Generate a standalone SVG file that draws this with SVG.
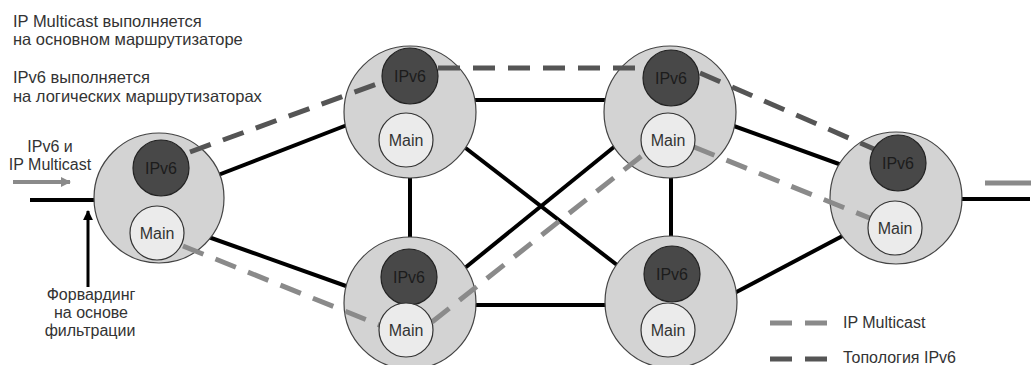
<svg xmlns="http://www.w3.org/2000/svg" width="1031" height="365" viewBox="0 0 1031 365">
<style>
text{font-family:"Liberation Sans",Arial,sans-serif;font-size:16px;fill:#333}
.c{text-anchor:middle}
.tl{font-size:16.5px}
.big{fill:#d3d3d3;stroke:#444;stroke-width:1.2}
.v6{fill:#484848;stroke:#222;stroke-width:1.2}
.mn{fill:#ebebeb;stroke:#333;stroke-width:1.2}
.t6{fill:#1c1c1c}
.solid{stroke:#000;stroke-width:4;fill:none}
.mc{stroke:#8a8a8a;stroke-width:5;stroke-dasharray:22 13;fill:none}
.tp{stroke:#555;stroke-width:5;stroke-dasharray:22 13;fill:none}
</style>
<defs>
<marker id="ab" viewBox="0 0 10 10" refX="9" refY="5" markerWidth="3.3" markerHeight="4.2" orient="auto" markerUnits="strokeWidth"><path d="M0,0L10,5L0,10z" fill="#000"/></marker>
<marker id="ag" viewBox="0 0 10 10" refX="9" refY="5" markerWidth="2.6" markerHeight="3" orient="auto" markerUnits="strokeWidth"><path d="M0,0L10,5L0,10z" fill="#8a8a8a"/></marker>
</defs>
<g id="connectors">
<line class="solid" x1="30" y1="200" x2="120" y2="200"/>
<line class="solid" x1="200" y1="182" x2="360" y2="120"/>
<line class="solid" x1="200" y1="234" x2="360" y2="291"/>
<line class="solid" x1="410" y1="170" x2="410" y2="245"/>
<line class="solid" x1="470" y1="100" x2="610" y2="100"/>
<line class="solid" x1="470" y1="305" x2="610" y2="305"/>
<line class="solid" x1="671" y1="170" x2="671" y2="245"/>
<line class="solid" x1="450" y1="136" x2="630" y2="275"/>
<line class="solid" x1="455" y1="276" x2="630" y2="134"/>
<line class="solid" x1="720" y1="121" x2="850" y2="168"/>
<line class="solid" x1="725" y1="298" x2="850" y2="232"/>
<line class="solid" x1="930" y1="199" x2="1030" y2="199"/>
<line x1="985" y1="183" x2="1031" y2="183" stroke="#8a8a8a" stroke-width="5"/>
<line x1="13" y1="182" x2="70" y2="182" stroke="#8a8a8a" stroke-width="4" marker-end="url(#ag)"/>
<line x1="88" y1="287" x2="88" y2="211" stroke="#000" stroke-width="3" marker-end="url(#ab)"/>
</g>
<g id="bigcircles">
<circle class="big" cx="159" cy="198" r="65"/>
<circle class="big" cx="410" cy="112" r="66"/>
<circle class="big" cx="670" cy="112" r="66"/>
<circle class="big" cx="410" cy="303" r="66"/>
<circle class="big" cx="671" cy="302" r="66"/>
<circle class="big" cx="896" cy="198" r="66"/>
</g>
<g id="dashed">
<line class="tp" x1="190" y1="152" x2="385" y2="81"/>
<line class="tp" x1="438" y1="68" x2="645" y2="68"/>
<line class="tp" x1="700" y1="73" x2="874" y2="149"/>
<line class="mc" x1="183" y1="246" x2="382" y2="326"/>
<line class="mc" x1="432" y1="322" x2="644" y2="154"/>
<line class="mc" x1="694" y1="147" x2="872" y2="219"/>
</g>
<g id="node-left">
<circle class="v6" cx="161" cy="168" r="28"/><text class="c t6" x="161" y="174">IPv6</text>
<circle class="mn" cx="157" cy="233" r="27"/><text class="c" x="157" y="239">Main</text>
</g>
<g id="node-tl">
<circle class="v6" cx="410" cy="76" r="28"/><text class="c t6" x="410" y="82">IPv6</text>
<circle class="mn" cx="406" cy="140" r="27"/><text class="c" x="406" y="146">Main</text>
</g>
<g id="node-tr">
<circle class="v6" cx="671" cy="78" r="28"/><text class="c t6" x="671" y="84">IPv6</text>
<circle class="mn" cx="668" cy="140" r="27"/><text class="c" x="668" y="146">Main</text>
</g>
<g id="node-bl">
<circle class="v6" cx="409" cy="277" r="28"/><text class="c t6" x="409" y="283">IPv6</text>
<circle class="mn" cx="406" cy="330" r="27"/><text class="c" x="406" y="336">Main</text>
</g>
<g id="node-br">
<circle class="v6" cx="672" cy="274" r="28"/><text class="c t6" x="672" y="280">IPv6</text>
<circle class="mn" cx="668" cy="330" r="27"/><text class="c" x="668" y="336">Main</text>
</g>
<g id="node-right">
<circle class="v6" cx="898" cy="163" r="28"/><text class="c t6" x="898" y="169">IPv6</text>
<circle class="mn" cx="895" cy="228" r="27"/><text class="c" x="895" y="234">Main</text>
</g>
<g id="labels">
<text class="tl" x="13" y="27">IP Multicast выполняется</text>
<text class="tl" x="13" y="45">на основном маршрутизаторе</text>
<text class="tl" x="13" y="83">IPv6 выполняется</text>
<text class="tl" x="13" y="102">на логических маршрутизаторах</text>
<text class="c" x="50" y="152">IPv6 и</text>
<text class="c" x="50" y="170">IP Multicast</text>
<text class="c" x="91" y="300">Форвардинг</text>
<text class="c" x="91" y="318">на основе</text>
<text class="c" x="90" y="336">фильтрации</text>
</g>
<g id="legend">
<line class="mc" x1="770" y1="323" x2="827" y2="323"/>
<text x="843" y="328">IP Multicast</text>
<line class="tp" x1="770" y1="359" x2="827" y2="359"/>
<text x="843" y="363">Топология IPv6</text>
</g>
</svg>
